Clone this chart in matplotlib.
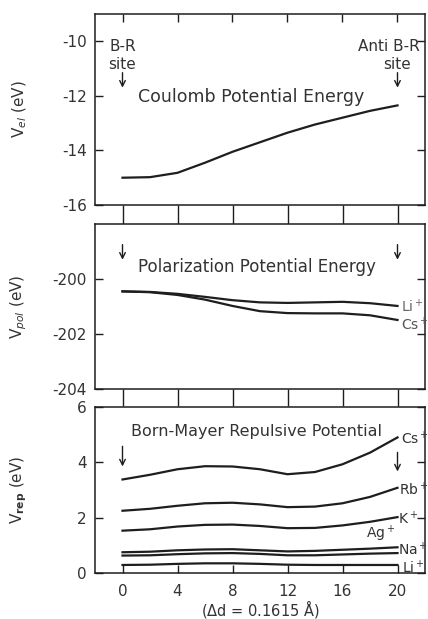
import numpy as np
import matplotlib
matplotlib.use("Agg")
import matplotlib.pyplot as plt

##################### data

steps = [0, 2, 4, 6, 8, 10, 12, 14, 16, 18, 20]   # site index, step = 0.1615 A
xticks = [0, 4, 8, 12, 16, 20]

# Coulomb potential energy (eV)
v_el = [-15.0, -14.98, -14.82, -14.45, -14.05, -13.70, -13.35, -13.05, -12.80, -12.55, -12.35]

# polarization potential energy (eV)
v_pol_li = [-200.45, -200.47, -200.54, -200.65, -200.77, -200.85, -200.87, -200.85, -200.83, -200.88, -200.98]
v_pol_cs = [-200.45, -200.48, -200.58, -200.75, -200.98, -201.17, -201.24, -201.25, -201.25, -201.32, -201.49]

# Born-Mayer repulsive potential (eV)
v_rep_cs = [3.38, 3.55, 3.75, 3.86, 3.85, 3.75, 3.57, 3.65, 3.93, 4.35, 4.90]
v_rep_rb = [2.25, 2.32, 2.43, 2.52, 2.54, 2.48, 2.38, 2.40, 2.52, 2.75, 3.08]
v_rep_k  = [1.53, 1.58, 1.68, 1.74, 1.75, 1.70, 1.62, 1.63, 1.72, 1.85, 2.02]
v_rep_ag = [0.75, 0.77, 0.82, 0.85, 0.86, 0.82, 0.78, 0.80, 0.84, 0.88, 0.93]
v_rep_na = [0.63, 0.64, 0.68, 0.71, 0.72, 0.69, 0.64, 0.64, 0.67, 0.70, 0.72]
v_rep_li = [0.29, 0.30, 0.33, 0.35, 0.35, 0.33, 0.30, 0.29, 0.29, 0.29, 0.29]

##################### style

ink   = "#1e1e1e"
txt   = "#333333"
fs    = 11      # ticks, axis labels
fsi   = 10      # ion labels
plt.rcParams['font.family'] = ['DejaVu Sans']
plt.rcParams['mathtext.fontset'] = 'dejavusans'
plt.rcParams['axes.unicode_minus'] = False

W, H = 428, 619
fig = plt.figure(figsize=(W/100, H/100), dpi=100)

def box(top, bottom):
    # axes from pixel rows (top/bottom measured from the top of the figure)
    return [95/W, 1 - bottom/H, 330/W, (bottom - top)/H]

ax1 = fig.add_axes(box(14, 205))
ax2 = fig.add_axes(box(224, 389))
ax3 = fig.add_axes(box(407, 573))

for ax in (ax1, ax2, ax3):
    ax.set_xlim(-2, 22)
    ax.set_xticks(xticks)
    for s in ax.spines.values():
        s.set_linewidth(1.1)
        s.set_color(ink)
    ax.tick_params(axis='y', direction='in', left=True, right=True, length=6,
                   width=1.0, color=ink, labelsize=fs, labelcolor=txt, pad=6)

# x ticks: the long ones bridge the gaps between the panels
ax1.tick_params(axis='x', direction='out', bottom=True, top=False, length=13.7,
                width=1.0, color=ink, labelbottom=False)
sec = ax1.secondary_xaxis('top')
sec.set_xticks(xticks)
sec.tick_params(direction='in', length=6, width=1.0, color=ink, labeltop=False)
sec.spines['top'].set_visible(False)

ax2.tick_params(axis='x', direction='out', bottom=True, top=False, length=12.5,
                width=1.0, color=ink, labelbottom=False)
ax3.tick_params(axis='x', direction='in', bottom=True, top=False, length=6,
                width=1.0, color=ink, labelsize=fs, labelcolor=txt, pad=8)

arrow = dict(arrowstyle='->', color=ink, lw=1.0, shrinkA=0, shrinkB=0)

##################### Coulomb
ax1.plot(steps, v_el, color=ink, lw=1.6)
ax1.set_ylim(-16, -9)
ax1.set_yticks([-16, -14, -12, -10])
ax1.set_ylabel(r'V$_{el}$ (eV)', fontsize=fs, color=txt)
ax1.text(1.1, -12.05, 'Coulomb Potential Energy', fontsize=12.5, color=txt, va='center')
ax1.text(0, -10.2, 'B-R', fontsize=fs, color=txt, ha='center', va='center')
ax1.text(0, -10.85, 'site', fontsize=fs, color=txt, ha='center', va='center')
ax1.text(21.6, -10.2, 'Anti B-R', fontsize=fs, color=txt, ha='right', va='center')
ax1.text(20, -10.85, 'site', fontsize=fs, color=txt, ha='center', va='center')
ax1.annotate('', xy=(0, -11.7), xytext=(0, -11.15), arrowprops=arrow)
ax1.annotate('', xy=(20, -11.7), xytext=(20, -11.15), arrowprops=arrow)

##################### polarization
ax2.plot(steps, v_pol_li, color=ink, lw=1.6)
ax2.plot(steps, v_pol_cs, color=ink, lw=1.6)
ax2.set_ylim(-204, -198)
ax2.set_yticks([-204, -202, -200])
ax2.set_ylabel(r'V$_{pol}$ (eV)', fontsize=fs, color=txt)
ax2.text(1.1, -199.57, 'Polarization Potential Energy', fontsize=12, color=txt, va='center')
ax2.text(20.25, -201.0, r'Li$^+$', fontsize=fsi, color='#666666', va='center')
ax2.text(20.25, -201.65, r'Cs$^+$', fontsize=fsi, color='#555555', va='center')
ax2.annotate('', xy=(0, -199.3), xytext=(0, -198.75), arrowprops=arrow)
ax2.annotate('', xy=(20, -199.3), xytext=(20, -198.75), arrowprops=arrow)

##################### Born-Mayer
for vals in (v_rep_cs, v_rep_rb, v_rep_k, v_rep_ag, v_rep_na, v_rep_li):
    ax3.plot(steps, vals, color=ink, lw=1.6)
ax3.set_ylim(0, 6)
ax3.set_yticks([0, 2, 4, 6])
ax3.set_ylabel(r'V$_{\mathbf{rep}}$ (eV)', fontsize=fs, color=txt)
ax3.set_xlabel(r'($\Delta$d = 0.1615 $\mathrm{\AA}$)', fontsize=10.5, color=txt, labelpad=-1)
ax3.text(0.6, 5.13, 'Born-Mayer Repulsive Potential', fontsize=11.5, color=txt, va='center')
ax3.text(20.25, 4.84, r'Cs$^+$', fontsize=fsi, color=txt, va='center')
ax3.text(20.1, 3.02, r'Rb$^+$', fontsize=fsi, color=txt, va='center')
ax3.text(20.0, 1.98, r'K$^+$', fontsize=fsi, color=txt, va='center')
ax3.text(17.7, 1.42, r'Ag$^+$', fontsize=fsi, color=txt, va='center')
ax3.text(20.0, 0.84, r'Na$^+$', fontsize=fsi, color=txt, va='center')
ax3.text(20.3, 0.2, r'Li$^+$', fontsize=fsi, color=txt, va='center')
ax3.annotate('', xy=(0, 3.85), xytext=(0, 4.58), arrowprops=arrow)
ax3.annotate('', xy=(20, 3.67), xytext=(20, 4.36), arrowprops=arrow)

for ax in (ax1, ax2, ax3):
    ax.yaxis.set_label_coords(-0.2, 0.5)

fig.savefig("out.png", dpi=100)
